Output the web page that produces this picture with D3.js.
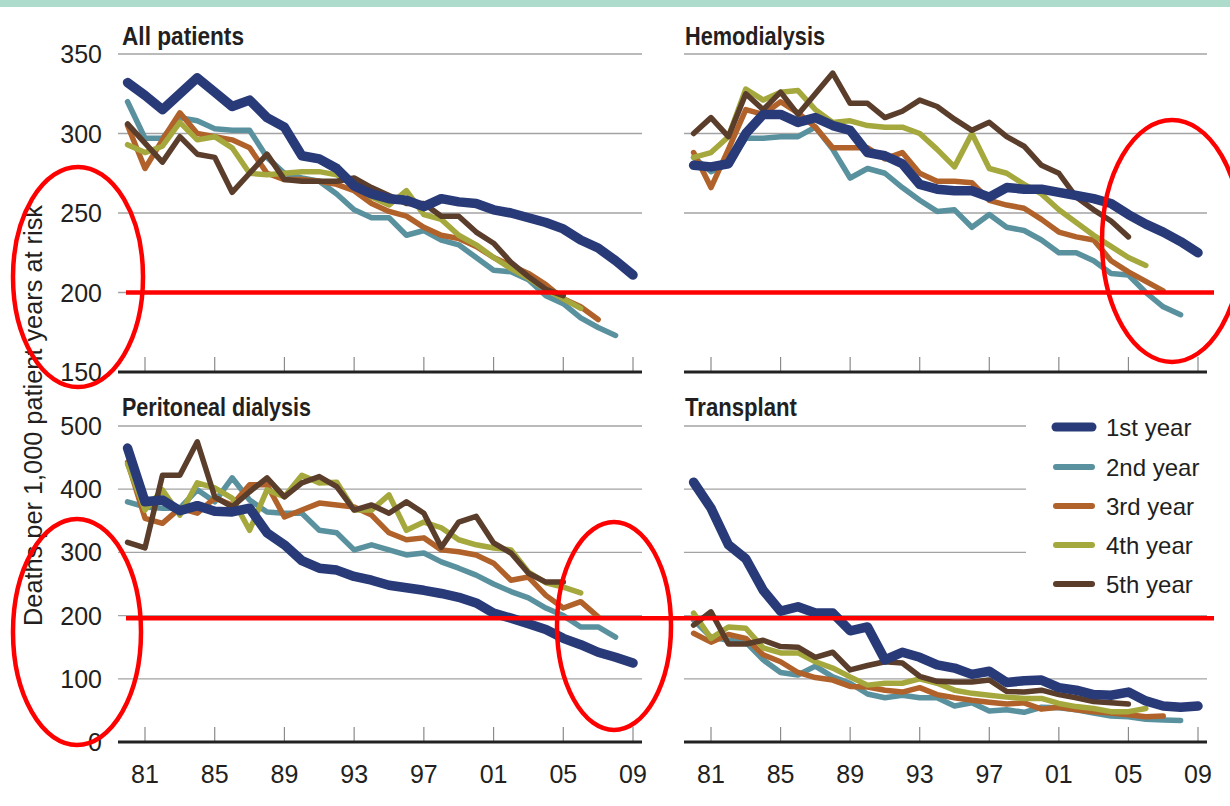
<!DOCTYPE html>
<html><head><meta charset="utf-8">
<script src="https://cdn.jsdelivr.net/npm/d3@7/dist/d3.min.js"></script>
<style>
html,body{margin:0;padding:0;background:#fff;}
svg{display:block;}
text{fill:#231f20;}
</style></head>
<body>
<svg id="chart" width="1230" height="806"></svg>
<script>
// ---------- data ----------
const startYear = 1980;
const seriesNames = ["1st year","2nd year","3rd year","4th year","5th year"];
const panelTitles = ["All patients","Hemodialysis","Peritoneal dialysis","Transplant"];
const xTickYears = [1981,1985,1989,1993,1997,2001,2005,2009];
const xTickLabels = ["81","85","89","93","97","01","05","09"];
const topYTicks = [150,200,250,300,350];
const bottomYTicks = [0,100,200,300,400,500];
const yAxisTitle = "Deaths per 1,000 patient years at risk";

const all1 = [332,324,315,325,335,326,317,321,310,304,286,284,278,267,262,259,258,254,259,257,256,252,250,247,244,240,233,228,220,211];
const all2 = [320,297,297,310,308,303,302,302,285,275,272,270,262,252,247,247,236,239,233,230,222,214,213,208,198,193,184,178,173];
const all3 = [305,278,296,313,300,298,296,291,275,271,271,270,268,264,256,251,248,241,236,234,229,222,217,212,205,196,191,183];
const all4 = [293,288,292,307,296,298,291,275,274,275,276,276,274,268,260,255,264,249,246,236,230,222,215,209,202,196,190];
const all5 = [306,294,282,298,287,285,263,275,287,271,270,270,270,272,266,261,256,256,248,248,238,231,219,210,202,198];

const hd1 = [280,279,281,300,312,312,307,310,305,302,288,286,281,268,265,264,264,260,266,265,265,263,261,259,256,249,243,238,232,225];
const hd2 = [285,276,281,297,297,298,298,304,290,272,278,275,266,258,251,252,241,249,241,239,233,225,225,220,212,211,200,191,186];
const hd3 = [288,266,290,315,312,320,313,304,291,291,291,284,288,275,270,270,269,258,255,253,246,238,235,233,220,213,207,201];
const hd4 = [285,288,298,328,321,326,327,315,307,308,305,304,304,300,290,279,300,278,275,268,262,252,244,236,229,222,217];
const hd5 = [300,310,298,325,315,326,312,325,338,319,319,310,314,321,317,309,302,307,298,292,280,275,260,252,245,235];

const pd1 = [465,380,383,366,374,365,364,370,331,312,287,275,272,262,256,248,244,240,235,229,220,204,196,187,178,164,154,142,134,125];
const pd2 = [380,372,370,370,399,380,418,383,364,362,362,335,331,304,312,304,296,299,285,275,264,250,238,228,212,200,182,182,166];
const pd3 = [443,354,346,370,362,386,375,407,407,356,367,378,375,372,359,331,320,323,304,301,296,283,256,261,232,212,222,198];
const pd4 = [440,367,399,359,410,402,386,335,399,388,422,410,411,367,367,391,335,348,339,320,312,307,304,269,252,245,236];
const pd5 = [316,307,422,422,475,388,372,396,418,388,410,420,404,367,375,362,380,362,308,348,357,315,299,267,253,253];

const tx1 = [411,370,312,290,240,207,214,204,204,176,182,130,142,134,122,117,107,112,94,97,98,86,82,75,74,79,65,57,55,57];
const tx2 = [193,166,161,158,130,110,106,120,103,93,76,70,74,70,70,57,62,49,51,47,55,54,51,46,41,40,36,35,34];
const tx3 = [172,158,170,164,138,127,110,102,98,88,87,82,79,86,75,70,66,63,60,62,52,55,51,48,46,43,40,41];
const tx4 = [204,164,182,180,149,141,141,127,117,103,90,93,93,100,93,82,77,74,71,69,69,61,56,53,48,48,53];
const tx5 = [185,206,155,155,161,151,150,134,142,114,121,127,125,104,96,95,95,98,80,79,82,75,70,64,62,60];

// annotation reference values (red highlight lines)
const redLineTopValue = 200;
const redLineBottomValue = 196;

// ---------- styling / layout ----------
const colors = ["#283a78","#5a919e","#b0622a","#a5a83c","#5b3d2b"];
const widths = [9.5,5.5,5.5,5.5,5.5];
const RED = "#ff0000";

const svg = d3.select("#chart");
svg.append("rect").attr("x",0).attr("y",0).attr("width",1230).attr("height",7).attr("fill","#aedccc");

const yTop = d3.scaleLinear().domain([150,350]).range([372,54]);
const yBot = d3.scaleLinear().domain([0,500]).range([742,426]);
const xL = d3.scaleLinear().domain([1981,2009]).range([145,633]);
const xR = d3.scaleLinear().domain([1981,2009]).range([711,1198]);

const panels = [
  {title:panelTitles[0], x:xL, y:yTop, ticks:topYTicks, series:[all1,all2,all3,all4,all5], gx:[118,642], titleX:122, titleY:45, titleW:122, labelsY:true, labelsX:false},
  {title:panelTitles[1], x:xR, y:yTop, ticks:topYTicks, series:[hd1,hd2,hd3,hd4,hd5], gx:[684,1207], titleX:685, titleY:45, titleW:140, labelsY:false, labelsX:false},
  {title:panelTitles[2], x:xL, y:yBot, ticks:bottomYTicks, series:[pd1,pd2,pd3,pd4,pd5], gx:[118,642], titleX:122, titleY:416, titleW:189, labelsY:true, labelsX:true},
  {title:panelTitles[3], x:xR, y:yBot, ticks:bottomYTicks, series:[tx1,tx2,tx3,tx4,tx5], gx:[684,1207], titleX:685, titleY:416, titleW:112, labelsY:false, labelsX:true, shortGrid:{min:300, end:1026}}
];

const FONT = "'Liberation Sans', Arial, sans-serif";

panels.forEach(p => {
  const g = svg.append("g");
  const base = p.ticks[0];
  p.ticks.slice(1).forEach(t => {
    const end = (p.shortGrid && t >= p.shortGrid.min) ? p.shortGrid.end : p.gx[1];
    g.append("line").attr("x1",p.gx[0]).attr("x2",end)
      .attr("y1",p.y(t)).attr("y2",p.y(t))
      .attr("stroke","#a3a3a3").attr("stroke-width",1.3);
  });
  xTickYears.forEach(yr => {
    g.append("line").attr("x1",p.x(yr)).attr("x2",p.x(yr))
      .attr("y1",p.y(base)).attr("y2",p.y(base)-15)
      .attr("stroke","#8a8a8a").attr("stroke-width",1.2);
  });
  g.append("line").attr("x1",p.gx[0]).attr("x2",p.gx[1])
    .attr("y1",p.y(base)).attr("y2",p.y(base))
    .attr("stroke","#222").attr("stroke-width",3);
  if (p.labelsY) {
    p.ticks.forEach(t => {
      g.append("text").attr("x",102).attr("y",p.y(t)).attr("dy","0.36em")
        .attr("text-anchor","end").attr("font-family",FONT).attr("font-size",25)
        .text(t);
    });
  }
  if (p.labelsX) {
    xTickYears.forEach((yr,i) => {
      g.append("text").attr("x",p.x(yr)).attr("y",783)
        .attr("text-anchor","middle").attr("font-family",FONT).attr("font-size",25)
        .text(xTickLabels[i]);
    });
  }
  g.append("text").attr("x",p.titleX).attr("y",p.titleY)
    .attr("font-family","'Liberation Sans Narrow','Liberation Sans',Arial,sans-serif")
    .attr("font-weight","bold").attr("font-size",25)
    .attr("textLength",p.titleW).attr("lengthAdjust","spacingAndGlyphs")
    .text(p.title);
  const order = [1,2,3,4,0];
  order.forEach(si => {
    const vals = p.series[si];
    const line = d3.line().x((d,i)=>p.x(startYear+i)).y(d=>p.y(d));
    g.append("path").attr("d",line(vals)).attr("fill","none")
      .attr("stroke",colors[si]).attr("stroke-width",widths[si])
      .attr("stroke-linejoin","round").attr("stroke-linecap","round");
  });
});

// legend
const legendRows = [427,467,506,545,584];
seriesNames.forEach((n,i) => {
  svg.append("line").attr("x1",1056).attr("x2",1092).attr("y1",legendRows[i]).attr("y2",legendRows[i])
    .attr("stroke",colors[i]).attr("stroke-width",i===0?9:6).attr("stroke-linecap","round");
  svg.append("text").attr("x",1106).attr("y",legendRows[i]).attr("dy","0.36em")
    .attr("font-family",FONT).attr("font-size",24).text(n);
});

// y axis title
svg.append("text").attr("transform","translate(42,415.5) rotate(-90)")
  .attr("text-anchor","middle").attr("font-family",FONT).attr("font-size",25)
  .attr("textLength",421).attr("lengthAdjust","spacingAndGlyphs")
  .text(yAxisTitle);

// red annotations
const ann = svg.append("g").attr("fill","none").attr("stroke",RED);
ann.append("line").attr("x1",126).attr("x2",1214).attr("y1",yTop(redLineTopValue)).attr("y2",yTop(redLineTopValue)).attr("stroke-width",4.5);
ann.append("line").attr("x1",126).attr("x2",1214).attr("y1",yBot(redLineBottomValue)).attr("y2",yBot(redLineBottomValue)).attr("stroke-width",4.5);
const ellipses = [
  {cx:78, cy:277, rx:65, ry:110},
  {cx:1172, cy:241, rx:70, ry:121},
  {cx:77, cy:632, rx:64, ry:113},
  {cx:614, cy:626, rx:57, ry:104}
];
ellipses.forEach(e => {
  ann.append("ellipse").attr("cx",e.cx).attr("cy",e.cy).attr("rx",e.rx).attr("ry",e.ry).attr("stroke-width",4.5);
});
</script>
</body></html>
